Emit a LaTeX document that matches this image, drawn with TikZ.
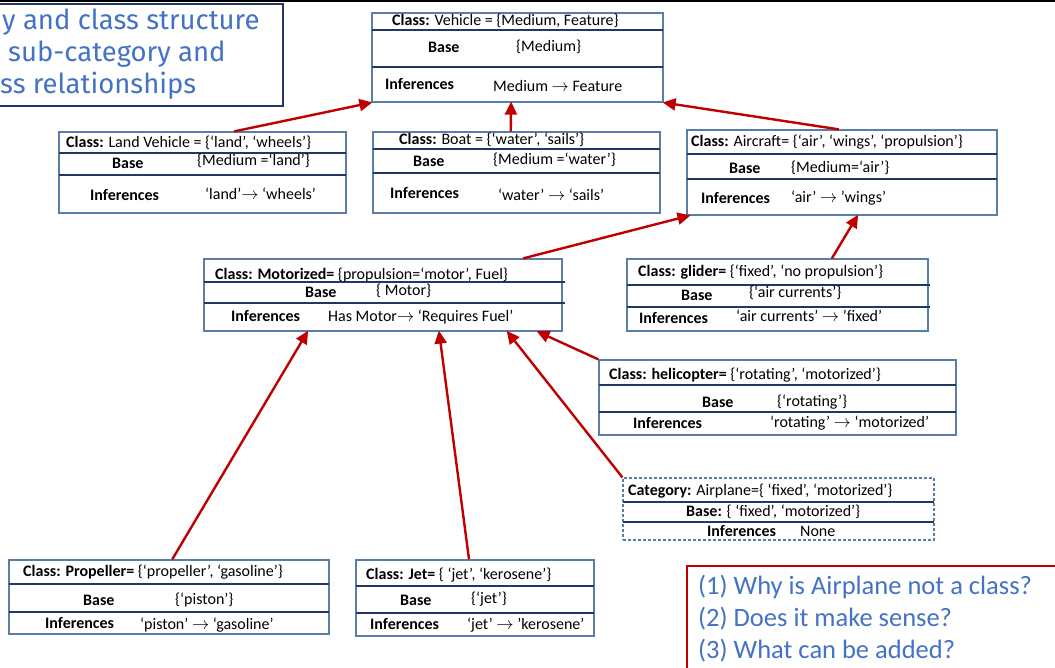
\documentclass[tikz,border=0pt]{standalone}
\usepackage{fontspec}
\setmainfont{Carlito}
\newfontfamily\titlefont{Fira Sans}
\usetikzlibrary{fit,calc,arrows.meta}
\definecolor{boxline}{HTML}{5A7EA8}
\definecolor{sepline}{HTML}{1F3864}
\definecolor{arrred}{HTML}{C00000}
\definecolor{txtblue}{HTML}{4472C4}
\tikzset{
  cbox/.style={draw=boxline, line width=1.2pt, inner sep=0pt},
  dbox/.style={draw=boxline, line width=1.1pt, inner sep=0pt, dash pattern=on 3pt off 2pt},
  sepl/.style={draw=sepline, line width=2.2pt},
  lbl/.style={anchor=west, inner sep=0pt, font=\fontsize{16}{19}\selectfont},
  ttl/.style={anchor=west, inner sep=0pt, text=txtblue, font=\titlefont\fontsize{27.5}{32}\selectfont},
  qst/.style={anchor=west, inner sep=0pt, text=txtblue, font=\fontsize{26.5}{31}\selectfont},
  isa/.style={draw=arrred, line width=2.4pt, -{Triangle[length=13pt,width=12pt]}, shorten >=-1pt},
}
\begin{document}
\begin{tikzpicture}[x=1pt,y=-1pt]
\useasboundingbox (0,0) rectangle (1055,668);
\fill[white] (0,0) rectangle (1055,668);
\draw[black, line width=2.5pt] (0,1) -- (1055,1);
% title box
\node[draw=sepline, line width=1.3pt, inner sep=0pt, fit={(-3,4)(283,106)}] (title) {};
\node[ttl] (t1) at (2,22) {y and class structure};
\node[ttl] (t2) at (8,54) {sub-category and};
\node[ttl] (t3) at (0,86) {ss relationships};
% Vehicle
\node[cbox, fit={(372,13)(663,102)}] (veh) {};
\draw[sepl] (372,30) -- (663,30);
\draw[sepl] (372,67) -- (663,67);
\node[lbl] (vh) at (392,21) {\textbf{Class:} Vehicle = \{Medium, Feature\}};
\node[lbl] (vb) at (428,47) {\textbf{Base}};
\node[lbl] (vbv) at (516,47) {\{Medium\}};
\node[lbl] (vi) at (385,84) {\textbf{Inferences}};
\node[lbl] (viv) at (493,86) {Medium $\rightarrow$ Feature};
% Land Vehicle
\node[cbox, fit={(59,132)(346,213)}] (land) {};
\draw[sepl] (59,153) -- (346,153);
\draw[sepl] (59,175) -- (346,175);
\node[lbl] (lh) at (66,143) {\textbf{Class:} Land Vehicle = \{‘land’, ‘wheels’\}};
\node[lbl] (lb) at (112,163) {\textbf{Base}};
\node[lbl] (lbv) at (197,161) {\{Medium =‘land’\}};
\node[lbl] (li) at (90,195) {\textbf{Inferences}};
\node[lbl] (liv) at (205,194) {‘land’$\rightarrow$ ‘wheels’};
% Boat
\node[cbox, fit={(373,132)(660,213)}] (boat) {};
\draw[sepl] (373,149) -- (660,149);
\draw[sepl] (373,173) -- (660,173);
\node[lbl] (bh) at (399,140) {\textbf{Class:} Boat = \{‘water’, ‘sails’\}};
\node[lbl] (bb) at (413,161) {\textbf{Base}};
\node[lbl] (bbv) at (493,160) {\{Medium =‘water’\}};
\node[lbl] (bi) at (390,193) {\textbf{Inferences}};
\node[lbl] (biv) at (498,195) {‘water’ $\rightarrow$ ‘sails’};
% Aircraft
\node[cbox, fit={(687,130)(997,215)}] (air) {};
\draw[sepl] (687,154) -- (997,154);
\draw[sepl] (687,179) -- (997,179);
\node[lbl] (ah) at (691,142) {\textbf{Class:} Aircraft= \{‘air’, ‘wings’, ‘propulsion’\}};
\node[lbl] (ab) at (729,168) {\textbf{Base}};
\node[lbl] (abv) at (791,168) {\{Medium=‘air’\}};
\node[lbl] (ai) at (701,198) {\textbf{Inferences}};
\node[lbl] (aiv) at (791,198) {‘air’ $\rightarrow$ ’wings’};
% Motorized
\node[cbox, fit={(204,259)(562,331)}] (mot) {};
\draw[sepl] (204,282) -- (565,282);
\draw[sepl] (204,303) -- (565,303);
\node[lbl] (mh) at (215,275) {\textbf{Class: Motorized=} \{propulsion=‘motor’, Fuel\}};
\node[lbl] (mb) at (305,292) {\textbf{Base}};
\node[lbl] (mbv) at (376,291) {\{ Motor\}};
\node[lbl] (mi) at (231,316) {\textbf{Inferences}};
\node[lbl] (miv) at (328,317) {Has Motor$\rightarrow$ ‘Requires Fuel’};
% Glider
\node[cbox, fit={(627,259)(928,331)}] (gli) {};
\draw[sepl] (627,285) -- (930,285);
\draw[sepl] (627,307) -- (930,307);
\node[lbl] (gh) at (638,272) {\textbf{Class: glider=} \{‘fixed’, ‘no propulsion’\}};
\node[lbl] (gb) at (681,295) {\textbf{Base}};
\node[lbl] (gbv) at (749,293) {\{‘air currents’\}};
\node[lbl] (gi) at (639,318) {\textbf{Inferences}};
\node[lbl] (giv) at (736,316) {‘air currents’ $\rightarrow$ ’fixed’};
% Helicopter
\node[cbox, fit={(599,360)(956,435)}] (heli) {};
\draw[sepl] (599,385) -- (956,385);
\draw[sepl] (599,412) -- (956,412);
\node[lbl] (hh) at (609,375) {\textbf{Class: helicopter=} \{‘rotating’, ‘motorized’\}};
\node[lbl] (hb) at (702,402) {\textbf{Base}};
\node[lbl] (hbv) at (777,402) {\{‘rotating’\}};
\node[lbl] (hi) at (633,423) {\textbf{Inferences}};
\node[lbl] (hiv) at (770,423) {‘rotating’ $\rightarrow$ ‘motorized’};
% Airplane (category)
\node[dbox, fit={(623,478)(934,540)}] (plane) {};
\draw[sepl] (623,502) -- (934,502);
\draw[sepl] (623,522) -- (934,522);
\node[lbl] (ph) at (628,491) {\textbf{Category:} Airplane=\{ ‘fixed’, ‘motorized’\}};
\node[lbl] (pb) at (686,512) {\textbf{Base:} \{ ‘fixed’, ‘motorized’\}};
\node[lbl] (pi) at (707,531) {\textbf{Inferences}};
\node[lbl] (piv) at (800,531) {None};
% Propeller
\node[cbox, fit={(9,560)(329,634)}] (prop) {};
\draw[sepl] (9,584) -- (329,584);
\draw[sepl] (9,612) -- (329,612);
\node[lbl] (prh) at (23,572) {\textbf{Class: Propeller=} \{‘propeller’, ‘gasoline’\}};
\node[lbl] (prb) at (83,600) {\textbf{Base}};
\node[lbl] (prbv) at (175,600) {\{‘piston’\}};
\node[lbl] (pri) at (45,623) {\textbf{Inferences}};
\node[lbl] (priv) at (140,625) {‘piston’ $\rightarrow$ ‘gasoline’};
% Jet
\node[cbox, fit={(356,560)(594,636)}] (jet) {};
\draw[sepl] (356,586) -- (594,586);
\draw[sepl] (356,613) -- (594,613);
\node[lbl] (jh) at (366,575) {\textbf{Class: Jet=} \{ ‘jet’, ‘kerosene’\}};
\node[lbl] (jb) at (400,600) {\textbf{Base}};
\node[lbl] (jbv) at (471,599) {\{‘jet’\}};
\node[lbl] (ji) at (370,624) {\textbf{Inferences}};
\node[lbl] (jiv) at (467,625) {‘jet’ $\rightarrow$ ’kerosene’};
% Questions
\node[draw=arrred, line width=2pt, inner sep=0pt, fit={(687,566)(1060,672)}] (qbox) {};
\node[qst] (q1) at (698,587) {(1) Why is Airplane not a class?};
\node[qst] (q2) at (698,619) {(2) Does it make sense?};
\node[qst] (q3) at (698,651) {(3) What can be added?};
% connectors
\draw[isa] ($(land.north west)!0.61!(land.north east)$) -- (veh.south west);
\draw[isa] ($(boat.north west)!0.48!(boat.north east)$) -- ($(veh.south west)!0.478!(veh.south east)$);
\draw[isa] ($(air.north west)!0.49!(air.north east)$) -- (veh.south east);
\draw[isa] ($(mot.north west)!0.89!(mot.north east)$) -- ($(air.south west)!0.01!(air.south east)$);
\draw[isa] ($(gli.north west)!0.68!(gli.north east)$) -- ($(air.south west)!0.55!(air.south east)$);
\draw[isa] ($(prop.north west)!0.51!(prop.north east)$) -- ($(mot.south west)!0.29!(mot.south east)$);
\draw[isa] ($(jet.north west)!0.475!(jet.north east)$) -- ($(mot.south west)!0.656!(mot.south east)$);
\draw[isa] (heli.north west) -- ($(mot.south west)!0.93!(mot.south east)$);
\draw[isa] (plane.north west) -- ($(mot.south west)!0.846!(mot.south east)$);
\end{tikzpicture}
\end{document}
